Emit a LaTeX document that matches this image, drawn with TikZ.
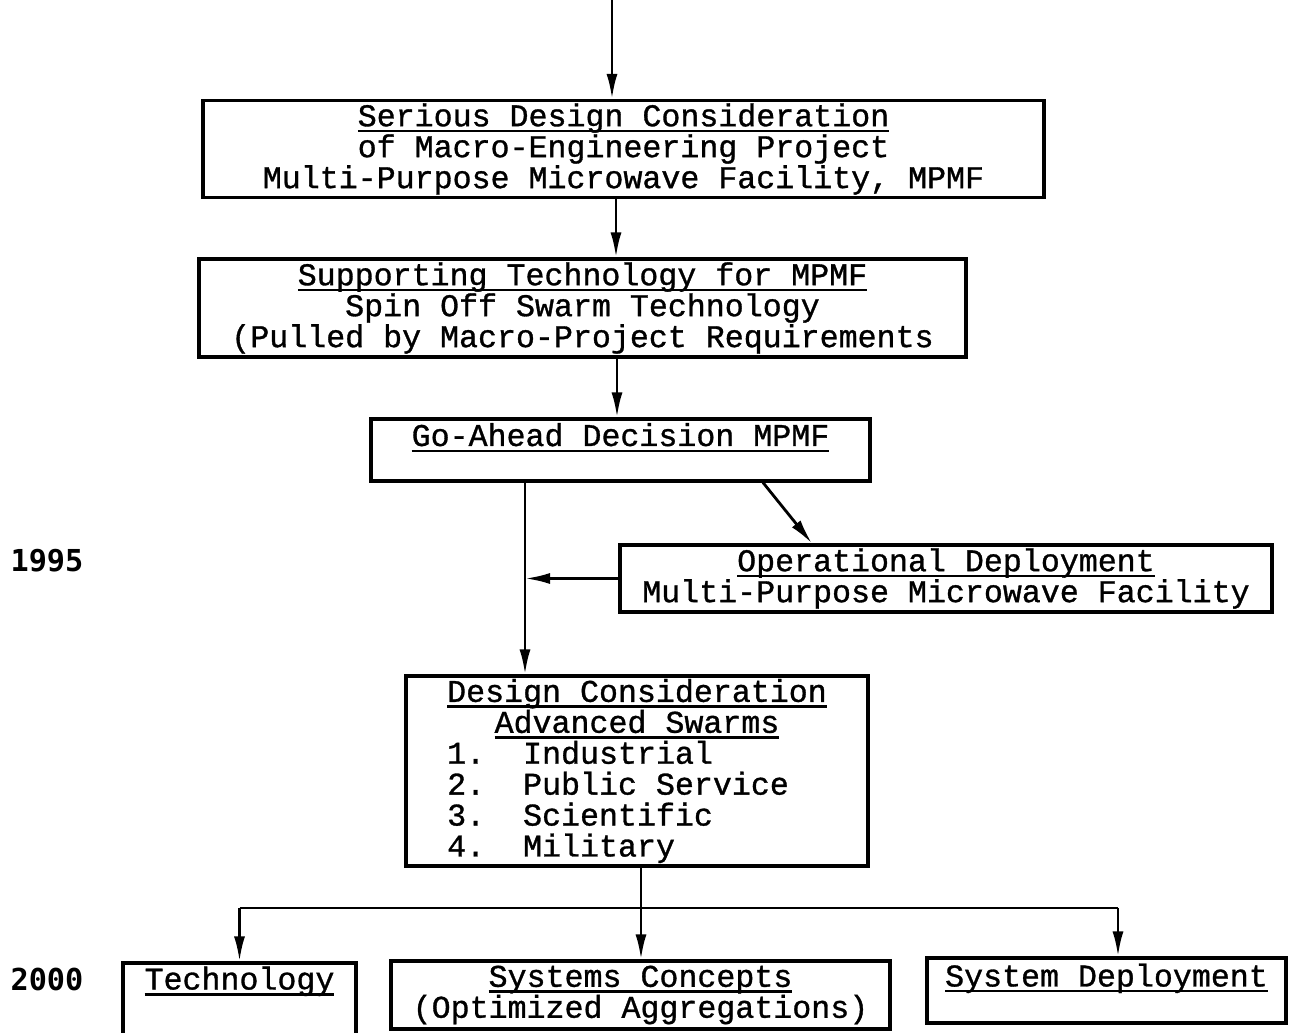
\documentclass[tikz,border=0pt]{standalone}
\usepackage{fontspec}
\newfontfamily\typew[FakeBold=1]{Liberation Mono}
\newfontfamily\yearfont{DejaVu Sans Mono}
\usetikzlibrary{arrows.meta}
\newcommand{\ulin}[1]{\setbox0=\hbox{#1}\rlap{\rule[-1.7pt]{\wd0}{0.7pt}}\box0}

\begin{document}
\begin{tikzpicture}
        \tikzstyle{every node} = [font=\typew\fontsize{9}{8.8}\selectfont, inner sep=0pt]
        \tikzstyle{box} = [draw, line width=0.9pt, rectangle, align=center]
        \tikzstyle{year} = [font=\yearfont\bfseries\fontsize{8.6}{9}\selectfont]
        \tikzstyle{arr} = [line width=0.8pt, -{Latex[length=2.5mm,width=1.1mm]}]
        \useasboundingbox (0,0) rectangle (12.95,10.33);

        \node[box, minimum width=8.41cm, minimum height=0.97cm] (sdc) at (6.235,8.84)
            {\ulin{Serious Design Consideration}\\of Macro-Engineering Project\\Multi-Purpose Microwave Facility, MPMF};
        \node[box, minimum width=7.67cm, minimum height=0.98cm] (st) at (5.825,7.25)
            {\ulin{Supporting Technology for MPMF}\\Spin Off Swarm Technology\\(Pulled by Macro-Project Requirements};
        \node[box, minimum width=4.99cm, minimum height=0.62cm] (ga) at (6.205,5.83)
            {\ulin{Go-Ahead Decision MPMF}\\\mbox{}};
        \node[box, minimum width=6.52cm, minimum height=0.67cm] (od) at (9.46,4.545)
            {\ulin{Operational Deployment}\\Multi-Purpose Microwave Facility};
        \node[box, minimum width=4.62cm, minimum height=1.9cm] (dc) at (6.37,2.62)
            {\ulin{Design Consideration}\\\ulin{Advanced Swarms}\\
             \makebox[12em][l]{1.\ \ Industrial}\\\makebox[12em][l]{2.\ \ Public Service}\\
             \makebox[12em][l]{3.\ \ Scientific}\\\makebox[12em][l]{4.\ \ Military}};
        \node[box, minimum width=2.33cm, minimum height=0.92cm] (tech) at (2.395,0.24)
            {\ulin{Technology}\\\mbox{}\\\mbox{}};
        \node[box, minimum width=4.99cm, minimum height=0.68cm] (sc) at (6.405,0.38)
            {\ulin{Systems Concepts}\\(Optimized Aggregations)};
        \node[box, minimum width=3.59cm, minimum height=0.65cm] (sd) at (11.065,0.425)
            {\ulin{System Deployment}\\\mbox{}};

        \node[year] (y1995) at (0.47,4.72) {1995};
        \node[year] (y2000) at (0.47,0.53) {2000};

        \coordinate (in) at (6.12,10.33);
        \coordinate (gd) at ([xshift=-9.55mm]ga.south);
        \coordinate (bus) at (6.41,1.25);
        \coordinate (sdt) at ([xshift=1.15mm]sd.north);

        \draw[arr] (in) -- (in |- sdc.north);
        \draw[arr] ([xshift=-0.75mm]sdc.south) -- ([xshift=-0.75mm]sdc.south |- st.north);
        \draw[arr] ([xshift=3.45mm]st.south) -- ([xshift=3.45mm]st.south |- ga.north);
        \draw[arr] (gd) -- (gd |- dc.north);
        \draw[arr] ([xshift=14.25mm]ga.south) -- ([xshift=-13.4mm]od.north);
        \draw[arr] (od.west) -- (od.west -| gd);
        \draw[arr] ([xshift=0.4mm]dc.south) -- ([xshift=0.4mm]dc.south |- sc.north);
        \draw[line width=0.8pt] (bus -| tech.north) -- (bus -| sdt);
        \draw[arr] (bus -| tech.north) -- (tech.north);
        \draw[arr] (bus -| sdt) -- (sdt);
\end{tikzpicture}
\end{document}
